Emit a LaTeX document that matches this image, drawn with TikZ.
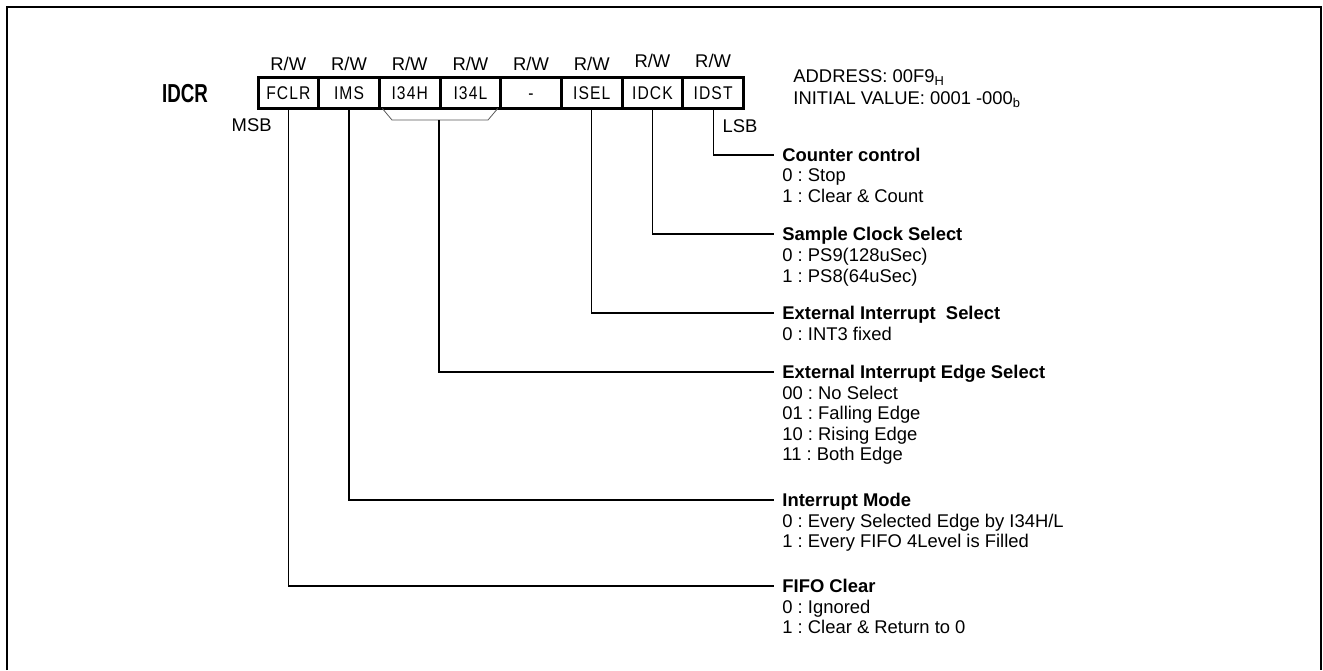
\documentclass[tikz,border=0pt]{standalone}
\usepackage{fontspec}
\setmainfont{Liberation Sans}
\newfontfamily\narrowfont[FakeStretch=0.85,LetterSpace=6]{Liberation Sans}
\newfontfamily\idcrfont[FakeStretch=0.72]{Liberation Sans}
\frenchspacing
\begin{document}
\begin{tikzpicture}[x=0.5pt,y=-0.5pt,
  cell/.style={draw, line width=1.5pt, minimum width=30.34pt, minimum height=15.75pt,
    inner sep=0pt, outer sep=0pt, text height=6.6pt, text depth=0pt,
    font=\narrowfont\fontsize{9.2}{10}\selectfont, anchor=west},
  lbl/.style={inner sep=0pt, font=\fontsize{9.2}{10.25}\selectfont},
  title/.style={anchor=west, inner xsep=4pt, inner ysep=0pt, text height=6.6pt,
    text depth=0pt, font=\bfseries\fontsize{9.2}{10.25}\selectfont},
  body/.style={anchor=base west, inner xsep=4pt, inner ysep=0pt,
    font=\fontsize{9.2}{10.25}\selectfont},
  conn/.style={line width=0.6pt},
  frame/.style={line width=1pt}]
\useasboundingbox (0,0) rectangle (1323,670);
\draw[frame] (7,670) -- (7,7) -- (1321,7) -- (1321,670);

% register name
\node[inner sep=0pt, anchor=base, font=\idcrfont\bfseries\fontsize{13}{15}\selectfont] (idcr) at (185,102.5) {IDCR};

% register cells
\node[cell] (c1) at (258,92.75) {FCLR};
\node[cell] (c2) at (c1.east) {IMS};
\node[cell] (c3) at (c2.east) {I34H};
\node[cell] (c4) at (c3.east) {I34L};
\node[cell] (c5) at (c4.east) {-};
\node[cell] (c6) at (c5.east) {ISEL};
\node[cell] (c7) at (c6.east) {IDCK};
\node[cell] (c8) at (c7.east) {IDST};

% R/W labels
\foreach \i in {1,...,6} {
  \node[lbl, anchor=base] (rw\i) at ([yshift=3.4pt]c\i.north) {R/W};
}
\node[lbl, anchor=base] (rw7) at ([yshift=5pt]c7.north) {R/W};
\node[lbl, anchor=base] (rw8) at ([yshift=5pt]c8.north) {R/W};

\node[lbl, anchor=base east] (msb) at (272,131.6) {MSB};
\node[lbl, anchor=base] (lsb) at (740,132.2) {LSB};

\node[lbl, anchor=base west] (addr) at (793,82.5) {ADDRESS: 00F9\textsubscript{H}};
\node[lbl, anchor=base west] (init) at (793,104.5) {INITIAL VALUE: 0001 -000\textsubscript{b}};

% descriptions
\node[title] (t1) at (774,155) {Counter control};
\node[body] (t1a) at ([yshift=-10pt]t1.base west) {0 : Stop};
\node[body] (t1b) at ([yshift=-10.5pt]t1a.base west) {1 : Clear \& Count};

\node[title] (t2) at (774,234) {Sample Clock Select};
\node[body] (t2a) at ([yshift=-10.5pt]t2.base west) {0 : PS9(128uSec)};
\node[body] (t2b) at ([yshift=-10.5pt]t2a.base west) {1 : PS8(64uSec)};

\node[title] (t3) at (774,313) {External Interrupt~ Select};
\node[body] (t3a) at ([yshift=-10.5pt]t3.base west) {0 : INT3 fixed};

\node[title] (t4) at (774,372) {External Interrupt Edge Select};
\node[body] (t4a) at ([yshift=-10.25pt]t4.base west) {00 : No Select};
\node[body] (t4b) at ([yshift=-10.25pt]t4a.base west) {01 : Falling Edge};
\node[body] (t4c) at ([yshift=-10.25pt]t4b.base west) {10 : Rising Edge};
\node[body] (t4d) at ([yshift=-10.25pt]t4c.base west) {11 : Both Edge};

\node[title] (t5) at (774,500) {Interrupt Mode};
\node[body] (t5a) at ([yshift=-10.25pt]t5.base west) {0 : Every Selected Edge by I34H/L};
\node[body] (t5b) at ([yshift=-10.25pt]t5a.base west) {1 : Every FIFO 4Level is Filled};

\node[title] (t6) at (774,586) {FIFO Clear};
\node[body] (t6a) at ([yshift=-10.25pt]t6.base west) {0 : Ignored};
\node[body] (t6b) at ([yshift=-10.25pt]t6a.base west) {1 : Clear \& Return to 0};

% bracket joining I34H and I34L
\coordinate (bl) at ([xshift=1.5pt]c3.south west);
\coordinate (bl2) at (392,120);
\coordinate (br) at (439,120);
\coordinate (br2) at (488,120);
\coordinate (brr) at ([xshift=-1.5pt]c4.south east);
\draw[line width=0.4pt, black!65] (bl) -- (bl2) -- (br2) -- (brr);

% connectors
\draw[conn] (c8.south) |- (t1.west);
\draw[conn] (c7.south) |- (t2.west);
\draw[conn] (c6.south) |- (t3.west);
\draw[conn] (br) |- (t4.west);
\draw[conn] (c2.south) |- (t5.west);
\draw[conn] (c1.south) |- (t6.west);
\end{tikzpicture}
\end{document}
